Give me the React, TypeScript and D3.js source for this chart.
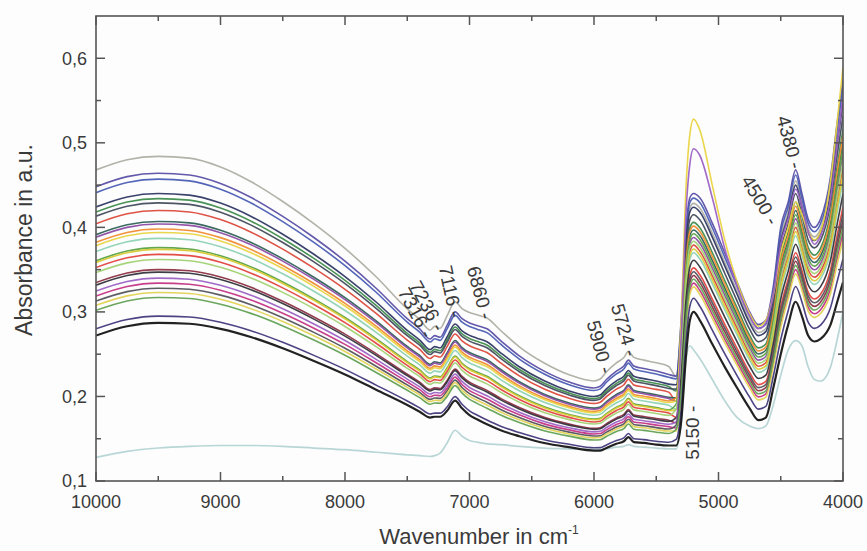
import React from 'react';
import * as d3 from 'd3';

// ---------- DATA ----------
const WAVENUMBERS = [
  10000, 9750, 9500, 9250, 9000, 8750, 8500, 8250, 8000, 7750, 7500, 7400, 7316, 7280, 7236, 7180, 7116,
  7060, 7000, 6940, 6860, 6750, 6600, 6400, 6200, 6000, 5950, 5900, 5820, 5760, 5724, 5680, 5600, 5500,
  5400, 5340, 5300, 5260, 5230, 5200, 5150, 5050, 4950, 4850, 4750, 4680, 4620, 4560, 4500, 4440, 4380,
  4330, 4280, 4230, 4180, 4100, 4050, 4000,
];

// upper spectrum of the main family (blue curve)
const UPPER_PROFILE = [
  0.448, 0.46, 0.464, 0.462, 0.452, 0.435, 0.413, 0.388, 0.36, 0.328, 0.292, 0.28, 0.268, 0.272, 0.27, 0.284, 0.3,
  0.292, 0.287, 0.284, 0.28, 0.266, 0.248, 0.23, 0.217, 0.21, 0.212, 0.22, 0.23, 0.236, 0.243, 0.236, 0.233, 0.23,
  0.226, 0.224, 0.29, 0.4, 0.435, 0.44, 0.435, 0.405, 0.37, 0.335, 0.3, 0.285, 0.29, 0.33, 0.4, 0.43, 0.468,
  0.44, 0.41, 0.4, 0.41, 0.46, 0.52, 0.575,
];

// lower spectrum of the main family (black curve)
const LOWER_PROFILE = [
  0.272, 0.283, 0.287, 0.286, 0.28, 0.27, 0.257, 0.242, 0.226, 0.208, 0.19, 0.182, 0.175, 0.176, 0.176, 0.183, 0.195,
  0.186, 0.178, 0.173, 0.167, 0.16, 0.153, 0.145, 0.14, 0.136, 0.136, 0.139, 0.144, 0.147, 0.152, 0.146, 0.145, 0.143,
  0.142, 0.142, 0.17, 0.25, 0.29, 0.3, 0.29, 0.262, 0.235, 0.21, 0.186, 0.172, 0.175, 0.21, 0.25, 0.285, 0.312,
  0.295, 0.272, 0.265, 0.268, 0.285, 0.31, 0.335,
];

// light cyan reference spectrum at the bottom
const REFERENCE_SPECTRUM = [
  0.128, 0.135, 0.139, 0.141, 0.142, 0.142, 0.141, 0.139, 0.137, 0.134, 0.131, 0.13, 0.129, 0.13, 0.133, 0.145, 0.16,
  0.153, 0.148, 0.146, 0.144, 0.143, 0.141, 0.139, 0.138, 0.137, 0.137, 0.138, 0.14, 0.141, 0.143, 0.141, 0.14, 0.139,
  0.138, 0.138, 0.17, 0.245, 0.26, 0.255, 0.245, 0.22, 0.195, 0.175, 0.165, 0.162, 0.165, 0.19, 0.225, 0.255, 0.266,
  0.26, 0.235, 0.22, 0.218, 0.235, 0.265, 0.3,
];

const SERIES_COLORS = [
  '#aeaea4', '#5a50a6', '#4a5db4', '#2f3763', '#3f8c4c', '#434b5c', '#dc4a3c', '#2f6157', '#8c4ca4',
  '#f08c32', '#e9d442', '#8ed2b4', '#5ca244', '#d9ca34', '#e2443f', '#a2d274', '#8c3244', '#33333b',
  '#9c62c4', '#c43484', '#53535b', '#e2d254', '#62a254', '#42397c', '#161616',
];
// absorbance of each spectrum at 9500 cm-1
const LEVEL_AT_9500 = [
  0.484, 0.464, 0.457, 0.44, 0.434, 0.429, 0.42, 0.407, 0.404, 0.398, 0.394, 0.387, 0.376, 0.374, 0.368,
  0.362, 0.35, 0.347, 0.34, 0.334, 0.328, 0.323, 0.317, 0.295, 0.287,
];
// absorbance of each spectrum at the 4380 cm-1 band (null: own right-hand values below)
const LEVEL_AT_4380: (number | null)[] = [
  0.455, 0.468, 0.462, 0.45, 0.43, 0.44, 0.4, 0.42, 0.41, 0.425, null, 0.39, 0.415, 0.395, 0.37,
  0.405, 0.36, 0.38, null, 0.35, 0.365, 0.345, 0.355, 0.33, 0.312,
];
// right-hand part (5340 … 4000 cm-1) of the two spectra with the strongest 5200 band
const YELLOW_RIGHT = [
  0.195, 0.29, 0.45, 0.51, 0.528, 0.515, 0.45, 0.385, 0.335, 0.298, 0.283, 0.29, 0.32, 0.37, 0.4, 0.43,
  0.415, 0.395, 0.385, 0.395, 0.455, 0.52, 0.59,
];
const VIOLET_RIGHT = [
  0.17, 0.27, 0.42, 0.475, 0.493, 0.485, 0.435, 0.375, 0.33, 0.295, 0.28, 0.287, 0.32, 0.38, 0.41, 0.445,
  0.425, 0.395, 0.38, 0.39, 0.435, 0.495, 0.555,
];
const RIGHT_OVERRIDES: Record<number, number[]> = { 10: YELLOW_RIGHT, 18: VIOLET_RIGHT };

const X_TICKS = [10000, 9000, 8000, 7000, 6000, 5000, 4000];
const X_MINOR = [9500, 8500, 7500, 6500, 5500, 4500];
const Y_TICKS = [0.1, 0.2, 0.3, 0.4, 0.5, 0.6];
const Y_MINOR = [0.15, 0.25, 0.35, 0.45, 0.55];
const Y_TICK_LABELS = ['0,1', '0,2', '0,3', '0,4', '0,5', '0,6'];

const BAND_LABELS = ['7316', '7236', '7116', '6860', '5900', '5724', '4380', '4500', '5150'];
const BAND_WAVENUMBERS = [7330, 7237, 7108, 6859, 5896, 5695, 4370, 4554, 5213];
const BAND_ABSORBANCE = [0.271, 0.279, 0.294, 0.292, 0.228, 0.248, 0.47, 0.405, 0.189];
const BAND_ANGLES = [62, 62, 78, 75, 75, 74, 75, 59, -90];

// ---------- CHART ----------
const W = 867;
const H = 551;
const M = { left: 96, right: 843, top: 16, bottom: 481 };
const FONT = "'Liberation Sans', Arial, Helvetica, sans-serif";

export default function App() {
  const x = d3.scaleLinear().domain([10000, 4000]).range([M.left, M.right]);
  const y = d3.scaleLinear().domain([0.1, 0.65]).range([M.bottom, M.top]);

  const i9500 = WAVENUMBERS.indexOf(9500);
  const i4380 = WAVENUMBERS.indexOf(4380);
  const iRight = WAVENUMBERS.indexOf(5340);

  const spectra = SERIES_COLORS.map((color, s) => {
    const tL = (LEVEL_AT_9500[s] - LOWER_PROFILE[i9500]) / (UPPER_PROFILE[i9500] - LOWER_PROFILE[i9500]);
    const lr = LEVEL_AT_4380[s];
    const tR = lr == null ? tL : (lr - LOWER_PROFILE[i4380]) / (UPPER_PROFILE[i4380] - LOWER_PROFILE[i4380]);
    const override = RIGHT_OVERRIDES[s];
    const pts: [number, number][] = WAVENUMBERS.map((w, i) => {
      if (override && i >= iRight) return [w, override[i - iRight]];
      const t = w >= 5400 ? tL : w <= 5300 ? tR : tL + ((tR - tL) * (5400 - w)) / 100;
      return [w, LOWER_PROFILE[i] + t * (UPPER_PROFILE[i] - LOWER_PROFILE[i])];
    });
    return { color, pts, s };
  });

  const line = d3
    .line<[number, number]>()
    .x((d) => x(d[0]))
    .y((d) => y(d[1]))
    .curve(d3.curveMonotoneX);

  const refPts: [number, number][] = WAVENUMBERS.map((w, i) => [w, REFERENCE_SPECTRUM[i]]);
  const axisColor = '#555';
  const textColor = '#3a3a3a';

  return (
    <svg
      width={W}
      height={H}
      viewBox={`0 0 ${W} ${H}`}
      style={{ position: 'absolute', left: 0, top: 0, background: '#fdfdfd' }}
      fontFamily={FONT}
    >
      <defs>
        <clipPath id="plot">
          <rect x={M.left} y={M.top} width={M.right - M.left} height={M.bottom - M.top} />
        </clipPath>
      </defs>
      <g clipPath="url(#plot)">
        <path d={line(refPts) || ''} fill="none" stroke="#b9d6d6" strokeWidth={1.7} />
        {spectra.map((sp) => (
          <path
            key={sp.s}
            d={line(sp.pts) || ''}
            fill="none"
            stroke={sp.color}
            strokeWidth={sp.s === SERIES_COLORS.length - 1 ? 2.2 : 1.6}
            strokeOpacity={0.95}
          />
        ))}
      </g>

      {/* frame */}
      <rect
        x={M.left}
        y={M.top}
        width={M.right - M.left}
        height={M.bottom - M.top}
        fill="none"
        stroke={axisColor}
        strokeWidth={1.6}
      />
      {/* x ticks */}
      {X_TICKS.map((t) => (
        <g key={'xt' + t}>
          <line x1={x(t)} x2={x(t)} y1={M.bottom} y2={M.bottom - 9} stroke={axisColor} strokeWidth={1.5} />
          <line x1={x(t)} x2={x(t)} y1={M.top} y2={M.top + 9} stroke={axisColor} strokeWidth={1.5} />
          <text x={x(t)} y={508} textAnchor="middle" fontSize={18} fill={textColor}>
            {t}
          </text>
        </g>
      ))}
      {X_MINOR.map((t) => (
        <g key={'xm' + t}>
          <line x1={x(t)} x2={x(t)} y1={M.bottom} y2={M.bottom - 5} stroke={axisColor} strokeWidth={1.5} />
          <line x1={x(t)} x2={x(t)} y1={M.top} y2={M.top + 5} stroke={axisColor} strokeWidth={1.5} />
        </g>
      ))}
      {/* y ticks */}
      {Y_TICKS.map((t, i) => (
        <g key={'yt' + t}>
          <line x1={M.left} x2={M.left + 9} y1={y(t)} y2={y(t)} stroke={axisColor} strokeWidth={1.5} />
          <line x1={M.right} x2={M.right - 9} y1={y(t)} y2={y(t)} stroke={axisColor} strokeWidth={1.5} />
          <text x={87} y={y(t)} dy="0.35em" textAnchor="end" fontSize={18} fill={textColor}>
            {Y_TICK_LABELS[i]}
          </text>
        </g>
      ))}
      {Y_MINOR.map((t) => (
        <g key={'ym' + t}>
          <line x1={M.left} x2={M.left + 5} y1={y(t)} y2={y(t)} stroke={axisColor} strokeWidth={1.5} />
          <line x1={M.right} x2={M.right - 5} y1={y(t)} y2={y(t)} stroke={axisColor} strokeWidth={1.5} />
        </g>
      ))}

      {/* band annotations */}
      {BAND_LABELS.map((lab, i) => {
        const px = x(BAND_WAVENUMBERS[i]);
        const py = y(BAND_ABSORBANCE[i]);
        return (
          <text
            key={'b' + lab}
            transform={`translate(${px},${py}) rotate(${BAND_ANGLES[i]})`}
            textAnchor="end"
            dy="0.35em"
            fontSize={19}
            fill={textColor}
          >
            {lab + ' -'}
          </text>
        );
      })}

      {/* axis titles */}
      <text x={479} y={544} textAnchor="middle" fontSize={22} fill={textColor}>
        Wavenumber in cm
        <tspan fontSize={12} dy={-10}>
          -1
        </tspan>
      </text>
      <text
        transform={`translate(32,240) rotate(-90)`}
        textAnchor="middle"
        fontSize={23}
        fill={textColor}
      >
        Absorbance in a.u.
      </text>
    </svg>
  );
}
